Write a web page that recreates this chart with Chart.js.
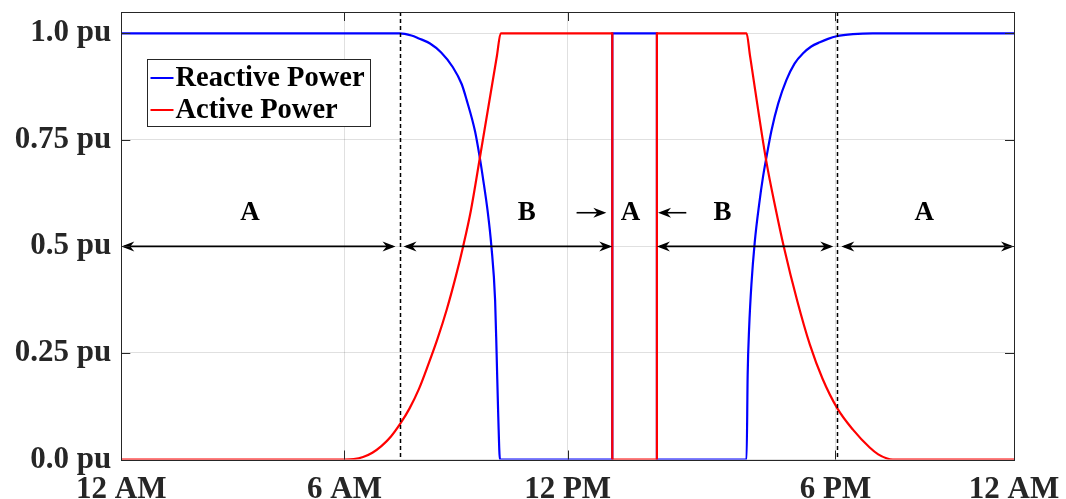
<!DOCTYPE html>
<html><head><meta charset="utf-8">
<script src="https://cdn.jsdelivr.net/npm/chart.js@4.4.0/dist/chart.umd.min.js"></script>
<style>html,body{margin:0;padding:0;background:#fff;overflow:hidden}#wrap{width:1066px;height:499px}</style>
</head><body><div id="wrap"><canvas id="c" width="1066" height="499"></canvas></div>
<script>
// ---- data (x in hours of the day, y in per-unit) ----
const seriesNames = ['Reactive Power', 'Active Power'];
const reactiveHours = [0, 7.48, 7.8, 8.0, 8.3, 8.6, 8.91, 9.15, 9.28, 9.51, 9.64, 9.72, 9.85, 9.95, 10.05, 10.09, 10.135, 10.18, 13.2, 13.2, 14.4, 14.4, 16.81, 16.84, 16.88, 16.94, 17.03, 17.15, 17.25, 17.35, 17.48, 17.66, 17.88, 18.1, 18.33, 18.55, 18.78, 19.0, 19.23, 19.67, 20.2, 24];
const reactiveValues = [1, 1, 0.995, 0.988, 0.976, 0.955, 0.921, 0.881, 0.845, 0.77, 0.707, 0.662, 0.582, 0.5, 0.373, 0.25, 0.1, 0, 0, 1, 1, 0, 0, 0.2, 0.31, 0.41, 0.51, 0.6, 0.662, 0.712, 0.772, 0.835, 0.89, 0.929, 0.953, 0.969, 0.979, 0.987, 0.993, 0.998, 1, 1];
const activeHours = [0, 6.0, 6.25, 6.5, 6.75, 7.0, 7.25, 7.5, 7.75, 8.0, 8.25, 8.5, 8.75, 9.0, 9.19, 9.4, 9.64, 10.1, 10.2, 13.2, 13.2, 14.4, 14.4, 16.81, 16.9, 17.34, 17.6, 17.81, 18.17, 18.51, 18.85, 19.25, 19.67, 20.12, 20.35, 20.57, 20.74, 24];
const activeValues = [0, 0, 0.001, 0.006, 0.016, 0.032, 0.054, 0.084, 0.12, 0.165, 0.222, 0.283, 0.352, 0.432, 0.5, 0.585, 0.708, 0.948, 1, 1, 0, 0, 1, 1, 0.949, 0.70, 0.585, 0.5, 0.373, 0.27, 0.19, 0.12, 0.07, 0.028, 0.012, 0.003, 0, 0];
const xTickHours = [0, 6, 12, 19.2, 24];
const xTickLabels = ['12 AM', '6 AM', '12 PM', '6 PM', '12 AM'];
const yTickValues = [0, 0.25, 0.5, 0.75, 1.0];
const yTickLabels = ['0.0 pu', '0.25 pu', '0.5 pu', '0.75 pu', '1.0 pu'];
// annotations
const boundaryHours = [7.48, 19.25];
const spanStarts = [0, 7.48, 14.4, 19.25];
const spanEnds = [7.48, 13.2, 19.25, 24];
const spanLevel = 0.5;
const regionLabels = ['A', 'B', 'A', 'B', 'A'];
const regionLabelHours = [3.46, 10.9, 13.69, 16.16, 21.59];
const regionLabelLevel = 0.58;
const pointerFrom = [12.24, 15.19];
const pointerTo = [13.04, 14.43];
const pointerLevel = 0.579;

const SERIF = "'Liberation Serif', 'DejaVu Serif', serif";
const AXIS = '#262626';

function arrowHead(ctx, x, y, dir) {
  const L = 13, W = 5, N = 4;
  ctx.beginPath();
  ctx.moveTo(x, y);
  ctx.lineTo(x - dir * L, y - W);
  ctx.lineTo(x - dir * (L - N), y);
  ctx.lineTo(x - dir * L, y + W);
  ctx.closePath();
  ctx.fill();
}

const decorPlugin = {
  id: 'decor',
  afterDatasetsDraw(chart) {
    const { ctx, chartArea: a, scales: { x, y } } = chart;
    ctx.save();
    ctx.strokeStyle = '#000'; ctx.lineWidth = 1.5; ctx.setLineDash([4, 3]);
    boundaryHours.forEach(h => {
      const px = Math.round(x.getPixelForValue(h)) + 0.5;
      ctx.beginPath(); ctx.moveTo(px, a.top); ctx.lineTo(px, a.bottom); ctx.stroke();
    });
    ctx.setLineDash([]);
    ctx.fillStyle = '#000'; ctx.lineWidth = 1.6;
    const yy = y.getPixelForValue(spanLevel);
    spanStarts.forEach((s, i) => {
      let x1 = x.getPixelForValue(s), x2 = x.getPixelForValue(spanEnds[i]);
      if (boundaryHours.includes(s)) x1 += 4;
      if (boundaryHours.includes(spanEnds[i])) x2 -= 4;
      ctx.beginPath(); ctx.moveTo(x1 + 3, yy); ctx.lineTo(x2 - 3, yy); ctx.stroke();
      arrowHead(ctx, x1, yy, -1); arrowHead(ctx, x2, yy, 1);
    });
    const py = y.getPixelForValue(pointerLevel);
    pointerFrom.forEach((f, i) => {
      const x1 = x.getPixelForValue(f), x2 = x.getPixelForValue(pointerTo[i]);
      const dir = x2 > x1 ? 1 : -1;
      ctx.beginPath(); ctx.moveTo(x1, py); ctx.lineTo(x2 - dir * 3, py); ctx.stroke();
      arrowHead(ctx, x2, py, dir);
    });
    ctx.font = `bold 27px ${SERIF}`; ctx.textAlign = 'center'; ctx.textBaseline = 'middle';
    const ly = y.getPixelForValue(regionLabelLevel);
    regionLabels.forEach((t, i) => ctx.fillText(t, x.getPixelForValue(regionLabelHours[i]), ly + 1));
    ctx.restore();
  },
  afterDraw(chart) {
    const { ctx, chartArea: a, scales: { x, y } } = chart;
    ctx.save();
    ctx.strokeStyle = AXIS; ctx.lineWidth = 1;
    ctx.strokeRect(Math.round(a.left) + 0.5, Math.round(a.top) + 0.5, Math.round(a.right - a.left), Math.round(a.bottom - a.top));
    const T = 9;
    ctx.beginPath();
    xTickHours.forEach(h => {
      const px = Math.round(x.getPixelForValue(h)) + 0.5;
      ctx.moveTo(px, a.bottom); ctx.lineTo(px, a.bottom - T);
      ctx.moveTo(px, a.top); ctx.lineTo(px, a.top + T);
    });
    yTickValues.forEach(v => {
      const py = Math.round(y.getPixelForValue(v)) + 0.5;
      ctx.moveTo(a.left, py); ctx.lineTo(a.left + T, py);
      ctx.moveTo(a.right, py); ctx.lineTo(a.right - T, py);
    });
    ctx.stroke();
    const lx = Math.round(a.left + 25.4) + 0.5, lyTop = Math.round(a.top + 47.3) + 0.5, lw = 223, lh = 67;
    ctx.fillStyle = '#fff'; ctx.fillRect(lx, lyTop, lw, lh);
    ctx.strokeStyle = AXIS; ctx.strokeRect(lx, lyTop, lw, lh);
    ctx.font = `bold 28.5px ${SERIF}`; ctx.textAlign = 'left'; ctx.textBaseline = 'middle';
    chart.data.datasets.forEach((ds, i) => {
      const cy = lyTop + 18.5 + i * 32;
      ctx.strokeStyle = ds.borderColor; ctx.lineWidth = 2;
      ctx.beginPath(); ctx.moveTo(lx + 3, cy); ctx.lineTo(lx + 26, cy); ctx.stroke();
      ctx.fillStyle = '#000';
      ctx.fillText(ds.label, lx + 28, cy + 1);
    });
    ctx.restore();
  }
};

const toPoints = (hs, vs) => hs.map((h, i) => ({ x: h, y: vs[i] }));

new Chart(document.getElementById('c'), {
  type: 'line',
  data: {
    datasets: [
      { label: seriesNames[0], data: toPoints(reactiveHours, reactiveValues), borderColor: '#0000ff', borderWidth: 2.2, pointRadius: 0, cubicInterpolationMode: 'monotone', fill: false, order: 1 },
      { label: seriesNames[1], data: toPoints(activeHours, activeValues), borderColor: '#ff0000', borderWidth: 2.2, pointRadius: 0, cubicInterpolationMode: 'monotone', fill: false, order: 0 }
    ]
  },
  options: {
    responsive: false,
    animation: false,
    events: [],
    layout: { padding: { top: 12, right: 52, left: 0, bottom: 0 } },
    plugins: { legend: { display: false }, tooltip: { enabled: false } },
    scales: {
      x: {
        type: 'linear', min: 0, max: 24,
        afterBuildTicks: s => { s.ticks = xTickHours.map(v => ({ value: v })); },
        afterFit: s => { s.height = 39.5; s.paddingLeft = 0; s.paddingRight = 0; },
        ticks: { callback: (v, i) => xTickLabels[i], font: { family: SERIF, weight: 'bold', size: 31 }, color: AXIS, padding: 12, maxRotation: 0, autoSkip: false },
        grid: { color: 'rgba(0,0,0,0.12)', drawTicks: false, lineWidth: 1 },
        border: { display: false }
      },
      y: {
        min: 0, max: 1.05,
        afterBuildTicks: s => { s.ticks = yTickValues.map(v => ({ value: v })); },
        afterFit: s => { s.width = 121.3; s.paddingTop = 0; s.paddingBottom = 0; },
        ticks: { callback: (v, i) => yTickLabels[i], font: { family: SERIF, weight: 'bold', size: 31 }, color: AXIS, padding: 10 },
        grid: { color: 'rgba(0,0,0,0.12)', drawTicks: false, lineWidth: 1 },
        border: { display: false }
      }
    }
  },
  plugins: [decorPlugin]
});
</script></body></html>
